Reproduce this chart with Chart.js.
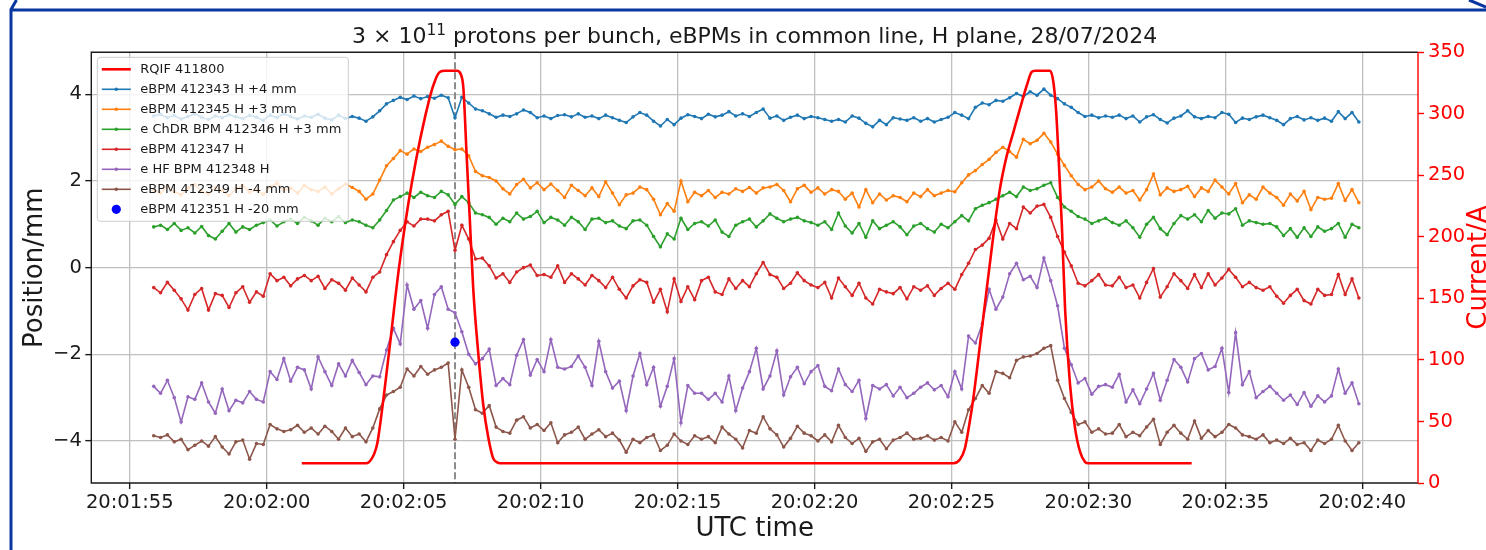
<!DOCTYPE html>
<html>
<head>
<meta charset="utf-8">
<title>RQIF 411800 and eBPMs in common line, H plane</title>
<script src="https://cdn.jsdelivr.net/npm/chart.js@4.4.1/dist/chart.umd.min.js"></script>
<style>
  html, body { margin: 0; padding: 0; background: #fff; }
  #wrap { position: relative; width: 1486px; height: 550px; overflow: hidden; }
  #plot, #frame { position: absolute; left: 0; top: 0; }
  #frame { pointer-events: none; }
</style>
</head>
<body>
<div id="wrap">
  <canvas id="plot" width="1486" height="550"></canvas>
  <svg id="frame" width="1486" height="550">
    <path d="M 16.5 0 L 11 9.5 L 11 560 M 11 10 L 1486 10 M 1469 0 L 1486 7"
          fill="none" stroke="#0a36a0" stroke-width="3"/>
  </svg>
</div>
<script>
// BPM sample clock, seconds relative to 20:02:00 UTC
const firstSample = -4.125;
const sampleStep = 0.25;

// time axis ticks (seconds from 20:02:00) and their UTC labels
const tickSeconds = [-5, 0, 5, 10, 15, 20, 25, 30, 35, 40];
const tickLabels = ['20:01:55', '20:02:00', '20:02:05', '20:02:10', '20:02:15',
                    '20:02:20', '20:02:25', '20:02:30', '20:02:35', '20:02:40'];
const positionTicks = [-4, -2, 0, 2, 4];

// RQIF 411800 current (A) against time (s)
const rqifTime = [1.28, 3.63, 3.84, 3.99, 4.06, 4.46, 4.83, 5.30, 5.96, 6.18,
                  6.32, 6.51, 6.95, 7.09, 7.18, 7.30, 7.42, 7.54, 7.73, 7.91,
                  8.09, 8.27, 8.40, 8.52, 25.07, 25.31, 25.49, 25.67, 25.80, 26.04,
                  26.29, 26.53, 26.77, 27.02, 27.26, 27.50, 27.75, 27.93, 28.05, 28.60,
                  28.72, 28.82, 28.90, 29.03, 29.15, 29.33, 29.51, 29.70, 29.88, 30.00,
                  33.77];
const rqifCurrent = [16, 16, 20, 28, 35, 105, 175, 244, 314, 329,
                     334, 335, 335, 332, 321, 266, 212, 158, 104, 63,
                     37, 20, 17, 16, 16, 19, 28, 50, 69, 112,
                     158, 201, 239, 266, 285, 304, 323, 334, 335, 335,
                     326, 303, 270, 210, 141, 80, 45, 25, 17, 16,
                     16];

// eBPM 412343 H, +4 mm
const bpm412343 = [
  3.50, 3.54, 3.46, 3.51, 3.43, 3.49, 3.55, 3.47, 3.42, 3.50,
  3.46, 3.53, 3.48, 3.44, 3.51, 3.47, 3.40, 3.52, 3.46, 3.55,
  3.49, 3.43, 3.50, 3.47, 3.54, 3.45, 3.41, 3.52, 3.44, 3.49,
  3.45, 3.38, 3.48, 3.62, 3.78, 3.86, 3.93, 3.88, 3.96, 3.90,
  3.95, 3.91, 3.98, 3.92, 3.46, 3.93, 3.80, 3.66, 3.62, 3.55,
  3.47, 3.52, 3.49, 3.55, 3.64, 3.58, 3.46, 3.50, 3.44, 3.51,
  3.53, 3.48, 3.55, 3.47, 3.50, 3.44, 3.52, 3.46, 3.40, 3.35,
  3.48, 3.58, 3.52, 3.38, 3.27, 3.42, 3.30, 3.45, 3.53, 3.49,
  3.44, 3.54, 3.48, 3.52, 3.60, 3.50, 3.55, 3.49, 3.58, 3.66,
  3.45, 3.50, 3.40, 3.47, 3.52, 3.44, 3.49, 3.46, 3.42, 3.38,
  3.42, 3.36, 3.50, 3.45, 3.33, 3.25, 3.40, 3.30, 3.46, 3.43,
  3.40, 3.46, 3.38, 3.44, 3.36, 3.42, 3.47, 3.58, 3.52, 3.44,
  3.70, 3.80, 3.76, 3.86, 3.84, 3.92, 4.02, 3.95, 4.06, 3.98,
  4.12, 3.98, 3.90, 3.78, 3.70, 3.58, 3.49, 3.52, 3.46, 3.50,
  3.47, 3.52, 3.44, 3.50, 3.36, 3.48, 3.53, 3.42, 3.34, 3.45,
  3.50, 3.62, 3.48, 3.44, 3.49, 3.46, 3.58, 3.54, 3.35, 3.45,
  3.42, 3.48, 3.52, 3.46, 3.40, 3.30, 3.44, 3.49, 3.41, 3.46,
  3.40, 3.45, 3.38, 3.60, 3.44, 3.58, 3.36
];

// eBPM 412345 H, +3 mm
const bpm412345 = [
  1.80, 1.72, 1.88, 1.75, 1.68, 1.84, 1.92, 1.76, 1.70, 1.85,
  1.78, 1.66, 1.82, 1.90, 1.74, 1.80, 1.69, 1.86, 1.95, 1.78,
  1.84, 1.72, 1.90, 1.80, 1.76, 1.86, 1.70, 1.82, 1.93, 1.85,
  1.76, 1.58, 1.70, 2.02, 2.35, 2.52, 2.70, 2.62, 2.74, 2.68,
  2.78, 2.84, 2.92, 2.80, 2.72, 2.74, 2.58, 2.22, 2.12, 2.08,
  2.00, 1.82, 1.70, 1.92, 2.04, 1.84, 1.96, 1.80, 1.93, 1.78,
  1.62, 1.90, 1.78, 1.66, 1.84, 1.64, 1.98, 1.72, 1.45, 1.68,
  1.72, 1.86, 1.80, 1.58, 1.22, 1.48, 1.30, 2.00, 1.52, 1.74,
  1.66, 1.78, 1.62, 1.74, 1.70, 1.82, 1.76, 1.85, 1.72, 1.84,
  1.86, 1.92, 1.78, 1.52, 1.82, 1.90, 1.74, 1.84, 1.70, 1.80,
  1.76, 1.58, 1.72, 1.40, 1.80, 1.50, 1.70, 1.56, 1.66, 1.62,
  1.52, 1.72, 1.64, 1.80, 1.66, 1.72, 1.78, 1.75, 1.96, 2.14,
  2.24, 2.38, 2.50, 2.66, 2.78, 2.68, 2.55, 2.96, 2.86, 2.94,
  3.10, 2.90, 2.62, 2.36, 2.12, 1.92, 1.80, 1.86, 2.00, 1.82,
  1.74, 1.86, 1.72, 1.78, 1.56, 1.80, 2.16, 1.68, 1.84, 1.76,
  1.80, 1.88, 1.64, 1.84, 1.76, 2.02, 1.86, 1.70, 1.94, 1.50,
  1.68, 1.58, 1.86, 1.72, 1.62, 1.44, 1.70, 1.54, 1.76, 1.34,
  1.62, 1.58, 1.60, 1.94, 1.55, 1.80, 1.50
];

// e ChDR BPM 412346 H, +3 mm
const chdr412346 = [
  0.94, 0.98, 0.88, 1.02, 0.86, 0.92, 0.80, 0.95, 0.74, 0.66,
  0.84, 1.02, 0.82, 0.94, 0.88, 0.98, 1.04, 1.10, 0.96, 1.06,
  1.12, 1.02, 1.16, 1.08, 0.98, 1.14, 1.06, 1.18, 1.04, 1.10,
  1.06, 0.98, 0.92, 1.10, 1.32, 1.56, 1.64, 1.72, 1.62, 1.74,
  1.66, 1.62, 1.76, 1.68, 1.46, 1.64, 1.50, 1.26, 1.22, 1.16,
  1.00, 1.14, 1.06, 1.26, 1.12, 1.18, 1.30, 1.04, 1.16, 1.10,
  0.98, 1.16, 1.06, 0.88, 1.12, 1.14, 1.04, 1.08, 0.96, 0.90,
  1.08, 1.10, 0.98, 0.72, 0.48, 0.78, 0.66, 1.14, 0.88, 1.02,
  1.06, 0.96, 1.10, 0.82, 0.72, 0.98, 1.06, 1.12, 0.94, 1.08,
  1.24, 1.14, 1.06, 1.12, 1.16, 1.08, 1.04, 0.98, 1.06, 0.88,
  1.26, 0.96, 0.80, 1.02, 0.70, 1.08, 0.90, 0.98, 1.06, 0.94,
  0.76, 0.96, 1.02, 0.90, 0.82, 1.00, 0.92, 1.06, 1.20, 1.08,
  1.36, 1.44, 1.50, 1.58, 1.66, 1.74, 1.64, 1.86, 1.78, 1.82,
  1.90, 1.96, 1.62, 1.40, 1.30, 1.18, 1.12, 1.02, 1.08, 1.14,
  1.04, 0.98, 1.08, 0.92, 0.70, 1.00, 1.16, 0.90, 0.76, 1.02,
  1.20, 1.12, 1.22, 1.06, 1.32, 1.14, 1.26, 1.24, 1.36, 0.98,
  1.08, 1.04, 1.00, 1.02, 0.94, 0.74, 0.90, 0.70, 0.92, 0.72,
  0.94, 0.84, 0.90, 1.02, 0.70, 1.00, 0.92
];

// eBPM 412347 H
const bpm412347 = [
  -0.46, -0.58, -0.34, -0.52, -0.72, -0.98, -0.62, -0.48, -0.98, -0.60,
  -0.64, -0.92, -0.58, -0.44, -0.80, -0.56, -0.66, -0.14, -0.30, -0.22,
  -0.42, -0.26, -0.18, -0.30, -0.20, -0.48, -0.28, -0.36, -0.52, -0.24,
  -0.40, -0.56, -0.22, -0.10, 0.30, 0.60, 0.86, 1.06, 0.96, 1.12,
  1.12, 1.08, 1.22, 1.30, 0.40, 0.98, 0.66, 0.20, 0.22, 0.04,
  -0.24, -0.14, -0.34, -0.10, 0.00, 0.06, -0.18, -0.16, -0.22, 0.04,
  -0.34, -0.14, -0.26, -0.40, -0.18, -0.30, -0.46, -0.22, -0.50, -0.70,
  -0.42, -0.28, -0.34, -0.80, -0.50, -1.02, -0.26, -0.78, -0.44, -0.74,
  -0.30, -0.22, -0.56, -0.62, -0.26, -0.48, -0.30, -0.44, -0.14, 0.12,
  -0.16, -0.22, -0.48, -0.36, -0.12, -0.30, -0.40, -0.46, -0.34, -0.70,
  -0.24, -0.44, -0.64, -0.36, -0.70, -0.84, -0.50, -0.56, -0.60, -0.46,
  -0.72, -0.44, -0.52, -0.42, -0.64, -0.48, -0.36, -0.50, -0.16, 0.10,
  0.42, 0.52, 0.68, 1.10, 0.66, 1.02, 0.90, 1.40, 1.26, 1.42,
  1.46, 1.16, 0.72, 0.36, 0.04, -0.36, -0.42, -0.30, -0.16, -0.40,
  -0.42, -0.22, -0.46, -0.40, -0.70, -0.34, -0.02, -0.68, -0.44, -0.14,
  -0.30, -0.48, -0.16, -0.46, -0.14, -0.40, -0.24, -0.04, -0.22, -0.44,
  -0.34, -0.46, -0.52, -0.44, -0.66, -0.82, -0.64, -0.50, -0.76, -0.84,
  -0.50, -0.64, -0.62, -0.16, -0.62, -0.26, -0.70
];

// e HF BPM 412348 H
const hf412348 = [
  -2.74, -2.90, -2.60, -3.00, -3.56, -2.98, -3.04, -2.66, -3.10, -3.36,
  -2.80, -3.30, -3.06, -3.12, -2.86, -3.04, -3.10, -2.40, -2.58, -2.10,
  -2.62, -2.30, -2.36, -2.80, -2.06, -2.40, -2.72, -2.22, -2.50, -2.14,
  -2.42, -2.70, -2.50, -2.52, -1.90, -1.40, -1.76, -0.40, -0.96, -0.76,
  -1.40, -0.62, -0.44, -0.96, -1.04, -1.48, -2.00, -2.22, -2.10, -1.88,
  -2.72, -2.56, -2.70, -2.02, -1.66, -2.48, -2.12, -2.40, -1.66, -2.30,
  -2.34, -2.28, -2.04, -2.30, -2.72, -1.70, -2.40, -2.78, -2.62, -3.30,
  -2.50, -1.98, -2.70, -2.30, -3.20, -2.74, -2.10, -3.58, -2.72, -2.90,
  -2.90, -3.04, -2.90, -3.10, -2.50, -3.30, -2.78, -2.40, -1.86, -2.80,
  -2.50, -1.92, -2.94, -2.52, -2.30, -2.68, -2.40, -2.26, -2.74, -2.84,
  -2.34, -2.70, -2.86, -2.60, -3.48, -2.72, -2.80, -2.70, -2.96, -2.76,
  -3.00, -2.90, -2.76, -2.66, -2.82, -2.72, -2.98, -2.40, -2.80, -1.58,
  -1.74, -1.30, -0.50, -0.96, -0.68, -0.14, 0.10, -0.28, -0.20, -0.46,
  0.22, -0.30, -0.88, -1.86, -2.24, -2.66, -2.56, -2.92, -2.74, -2.70,
  -2.76, -2.46, -3.10, -2.82, -3.14, -2.80, -2.44, -3.06, -2.60, -2.12,
  -2.30, -2.64, -2.10, -1.98, -2.36, -2.28, -1.86, -2.88, -1.50, -2.70,
  -2.40, -3.00, -2.86, -2.74, -2.90, -3.06, -2.94, -3.16, -2.88, -3.20,
  -2.96, -3.10, -2.96, -2.34, -2.90, -2.66, -3.14
];

// eBPM 412349 H, -4 mm
const bpm412349 = [
  -3.88, -3.92, -3.86, -4.02, -3.96, -4.20, -4.10, -4.00, -4.12, -3.90,
  -4.14, -4.30, -4.02, -3.98, -4.42, -4.06, -4.08, -3.62, -3.72, -3.78,
  -3.74, -3.64, -3.80, -3.70, -3.84, -3.66, -3.78, -3.96, -3.70, -3.90,
  -3.84, -4.02, -3.70, -3.26, -2.94, -2.86, -2.76, -2.34, -2.50, -2.28,
  -2.46, -2.36, -2.30, -2.20, -3.96, -2.36, -2.76, -3.28, -3.36, -3.18,
  -3.68, -3.78, -3.82, -3.52, -3.44, -3.70, -3.62, -3.76, -3.58, -4.04,
  -3.86, -3.80, -3.68, -3.96, -3.84, -3.74, -3.90, -3.82, -3.98, -4.26,
  -3.96, -4.04, -3.92, -3.86, -4.22, -4.10, -3.84, -4.00, -4.08, -3.88,
  -3.96, -3.90, -4.04, -3.68, -3.84, -3.96, -4.16, -3.76, -3.82, -3.44,
  -3.72, -3.86, -4.14, -3.94, -3.66, -3.82, -3.88, -4.00, -3.86, -4.02,
  -3.64, -3.92, -4.06, -3.94, -4.24, -4.02, -3.96, -4.18, -3.98, -3.92,
  -3.82, -3.96, -3.94, -3.88, -3.98, -3.92, -4.00, -3.56, -3.80, -3.28,
  -3.02, -2.72, -2.90, -2.40, -2.44, -2.54, -2.14, -2.06, -2.04, -1.98,
  -1.86, -1.80, -2.60, -3.02, -3.34, -3.62, -3.56, -3.80, -3.72, -3.84,
  -3.82, -3.62, -3.90, -3.80, -3.88, -3.68, -3.50, -4.08, -3.80, -3.64,
  -3.82, -3.96, -3.54, -3.94, -3.76, -3.90, -3.80, -3.62, -3.70, -3.86,
  -3.90, -3.96, -3.86, -4.04, -3.98, -4.06, -3.94, -4.08, -4.04, -4.22,
  -3.98, -4.06, -3.96, -3.64, -4.00, -4.22, -4.04
];

// single eBPM 412351 reading (-20 mm), taken at the marked time
const snapshotTime = 6.875;
const bpm412351 = -1.72;

const font = '"DejaVu Sans", sans-serif';
const ink = '#1a1a1a';
Chart.defaults.font.family = font;
Chart.defaults.color = ink;

const times = bpm412343.map((_, i) => firstSample + i * sampleStep);
const toPoints = values => values.map((v, i) => ({ x: times[i], y: v }));

function bpmLine(label, values, color, order) {
  return {
    label, order, yAxisID: 'y',
    data: toPoints(values),
    borderColor: color, backgroundColor: color,
    borderWidth: 1.6, pointRadius: 1.8, pointBorderWidth: 0, pointHoverRadius: 0
  };
}

function roundedRect(ctx, x, y, w, h, r) {
  ctx.beginPath();
  ctx.moveTo(x + r, y);
  ctx.arcTo(x + w, y, x + w, y + h, r);
  ctx.arcTo(x + w, y + h, x, y + h, r);
  ctx.arcTo(x, y + h, x, y, r);
  ctx.arcTo(x, y, x + w, y, r);
  ctx.closePath();
}

// dashed marker, axes frame, title, current label and the legend
const decorations = {
  id: 'decorations',
  beforeDatasetsDraw(chart) {
    const { ctx, chartArea: a, scales } = chart;
    const x = scales.x.getPixelForValue(snapshotTime);
    ctx.save();
    ctx.strokeStyle = '#808080';
    ctx.lineWidth = 1.8;
    ctx.setLineDash([7, 3]);
    ctx.beginPath();
    ctx.moveTo(x, a.top);
    ctx.lineTo(x, a.bottom);
    ctx.stroke();
    ctx.restore();
  },
  afterDatasetsDraw(chart) {
    const { ctx, chartArea: a } = chart;
    ctx.save();
    ctx.lineWidth = 1.4;
    ctx.strokeStyle = ink;
    ctx.beginPath();
    ctx.moveTo(a.right, a.top);
    ctx.lineTo(a.left, a.top);
    ctx.lineTo(a.left, a.bottom);
    ctx.lineTo(a.right, a.bottom);
    ctx.stroke();
    ctx.strokeStyle = 'red';
    ctx.beginPath();
    ctx.moveTo(a.right, a.top);
    ctx.lineTo(a.right, a.bottom);
    ctx.stroke();
    ctx.restore();
  },
  afterDraw(chart) {
    const { ctx, chartArea: a } = chart;
    ctx.save();

    // title with a raised exponent
    const parts = [
      { text: '3 × 10', size: 22, rise: 0 },
      { text: '11', size: 15.4, rise: 8.5 },
      { text: ' protons per bunch, eBPMs in common line, H plane, 28/07/2024', size: 22, rise: 0 }
    ];
    let total = 0;
    parts.forEach(p => { ctx.font = p.size + 'px ' + font; p.w = ctx.measureText(p.text).width; total += p.w; });
    let tx = (a.left + a.right) / 2 - total / 2;
    ctx.fillStyle = ink;
    ctx.textAlign = 'left';
    ctx.textBaseline = 'alphabetic';
    parts.forEach(p => {
      ctx.font = p.size + 'px ' + font;
      ctx.fillText(p.text, tx, a.top - 9 - p.rise);
      tx += p.w;
    });

    // right axis label, reading upwards
    ctx.save();
    ctx.translate(chart.width, (a.top + a.bottom) / 2);
    ctx.rotate(-Math.PI / 2);
    ctx.font = '26px ' + font;
    ctx.fillStyle = 'red';
    ctx.textAlign = 'center';
    ctx.fillText('Current/A', 0, 0);
    ctx.restore();

    // legend
    const sets = chart.data.datasets;
    const left = a.left + 6, top = a.top + 5, rowH = 20;
    roundedRect(ctx, left, top, 251, sets.length * rowH + 4, 3);
    ctx.fillStyle = 'rgba(255, 255, 255, 0.8)';
    ctx.fill();
    ctx.strokeStyle = '#cccccc';
    ctx.lineWidth = 1;
    ctx.stroke();
    ctx.font = '13px ' + font;
    ctx.textBaseline = 'middle';
    sets.forEach((ds, i) => {
      const y = top + 12 + i * rowH;
      const x0 = left + 4.5, x1 = left + 33.5;
      if (ds.showLine !== false) {
        ctx.strokeStyle = ds.borderColor;
        ctx.lineWidth = ds.borderWidth;
        ctx.beginPath();
        ctx.moveTo(x0, y);
        ctx.lineTo(x1, y);
        ctx.stroke();
      }
      if (ds.pointRadius > 0) {
        ctx.fillStyle = ds.backgroundColor;
        ctx.beginPath();
        ctx.arc((x0 + x1) / 2, y, ds.pointRadius, 0, Math.PI * 2);
        ctx.fill();
      }
      ctx.fillStyle = ink;
      ctx.fillText(ds.label, left + 43, y + 0.5);
    });
    ctx.restore();
  }
};

new Chart(document.getElementById('plot'), {
  type: 'line',
  data: {
    datasets: [
      {
        label: 'RQIF 411800', order: 0, yAxisID: 'y1',
        data: rqifTime.map((t, i) => ({ x: t, y: rqifCurrent[i] })),
        borderColor: '#ff0000', backgroundColor: '#ff0000',
        borderWidth: 2.6, pointRadius: 0, cubicInterpolationMode: 'monotone'
      },
      bpmLine('eBPM 412343 H +4 mm', bpm412343, '#1f77b4', 7),
      bpmLine('eBPM 412345 H +3 mm', bpm412345, '#ff7f0e', 6),
      bpmLine('e ChDR BPM 412346 H +3 mm', chdr412346, '#2ca02c', 5),
      bpmLine('eBPM 412347 H', bpm412347, '#d62728', 4),
      bpmLine('e HF BPM 412348 H', hf412348, '#9467bd', 3),
      bpmLine('eBPM 412349 H -4 mm', bpm412349, '#8c564b', 2),
      {
        label: 'eBPM 412351 H -20 mm', order: 1, yAxisID: 'y',
        data: [{ x: snapshotTime, y: bpm412351 }],
        showLine: false, borderColor: '#0000ff', backgroundColor: '#0000ff',
        pointRadius: 4.6, pointBorderWidth: 0
      }
    ]
  },
  options: {
    responsive: false,
    animation: false,
    devicePixelRatio: 1,
    events: [],
    layout: { padding: { top: 52.3 } },
    plugins: { legend: { display: false }, tooltip: { enabled: false } },
    scales: {
      x: {
        type: 'linear', min: -6.404, max: 42.034,
        afterBuildTicks: s => { s.ticks = tickSeconds.map(v => ({ value: v })); },
        afterFit: s => { s.height = 67; },
        ticks: {
          callback: v => tickLabels[tickSeconds.indexOf(v)],
          font: { size: 19.5 }, color: ink, padding: 2, maxRotation: 0, autoSkip: false
        },
        grid: { color: '#c0c0c0', lineWidth: 1.3, tickColor: ink, tickLength: 6, tickWidth: 1.4 },
        border: { display: false },
        title: { display: true, text: 'UTC time', font: { size: 26 }, color: ink, padding: { top: 0, bottom: 5 } }
      },
      y: {
        position: 'left', min: -4.97, max: 4.97,
        afterBuildTicks: s => { s.ticks = positionTicks.map(v => ({ value: v })); },
        afterFit: s => { s.width = 91.3; },
        ticks: {
          callback: v => (v < 0 ? '\u2212' : '') + Math.abs(v),
          font: { size: 19.5 }, color: ink, padding: 3.5
        },
        grid: { color: '#c0c0c0', lineWidth: 1.3, tickColor: ink, tickLength: 6, tickWidth: 1.4 },
        border: { display: false },
        title: { display: true, text: 'Position/mm', font: { size: 26 }, color: ink, padding: { top: 20, bottom: 0 } }
      },
      y1: {
        position: 'right', min: 0, max: 350,
        afterFit: s => { s.width = 68; },
        ticks: { stepSize: 50, font: { size: 19.5 }, color: 'red', padding: 4 },
        grid: { drawOnChartArea: false, tickColor: 'red', tickLength: 6, tickWidth: 1.4 },
        border: { display: false }
      }
    }
  },
  plugins: [decorations]
});
</script>
</body>
</html>
